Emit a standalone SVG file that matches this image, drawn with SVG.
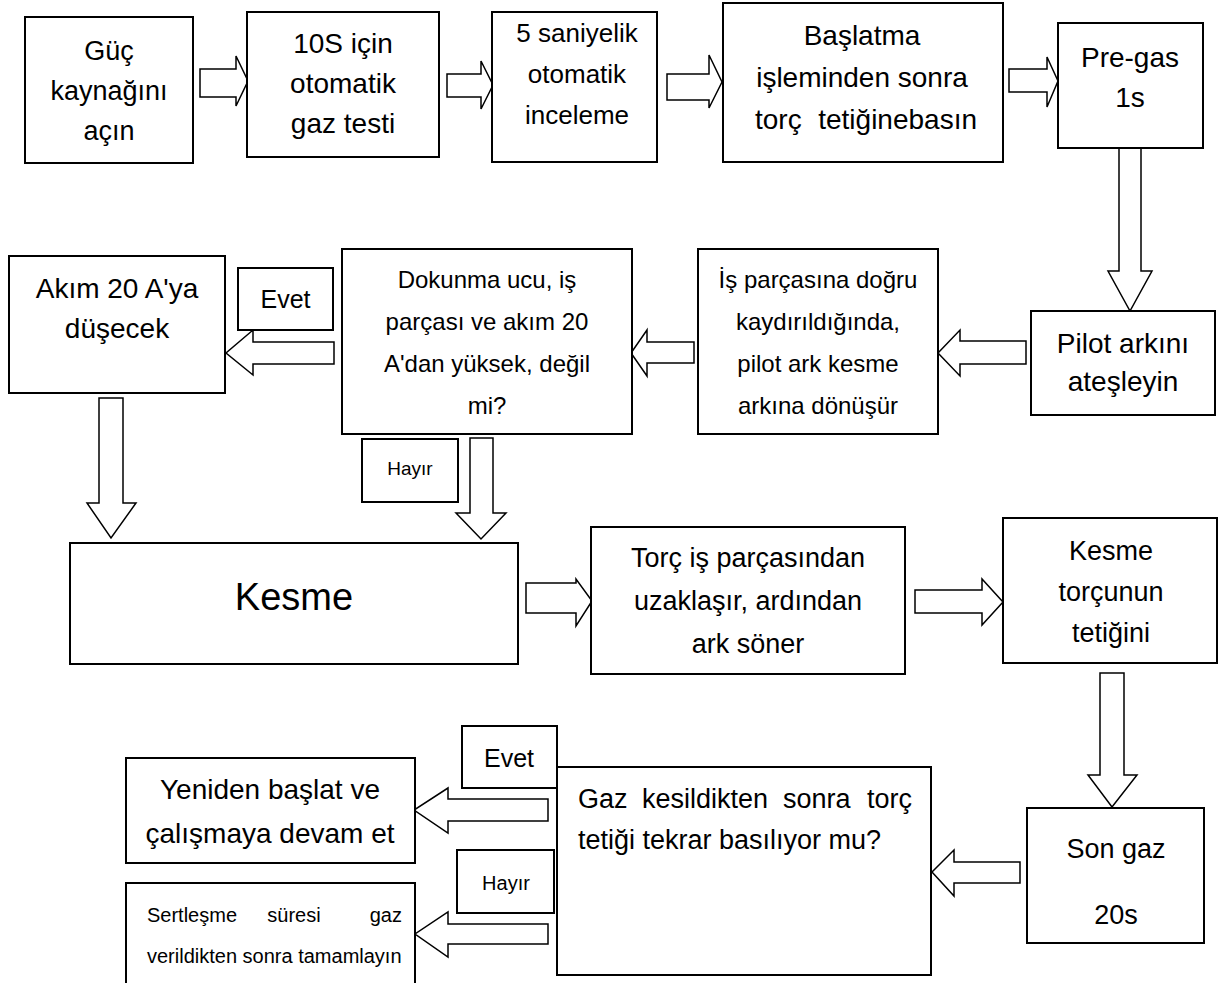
<svg xmlns="http://www.w3.org/2000/svg" width="1223" height="983" viewBox="0 0 1223 983">
<style>
.box{fill:#fff;stroke:#000;stroke-width:2}
.arr{fill:#fff;stroke:#000;stroke-width:1.5;stroke-linejoin:miter}
.t{font-family:"Liberation Sans",Arial,sans-serif;fill:#000;text-anchor:middle}
.s28{font-size:28px}.s27{font-size:27px}.s26{font-size:26px}.s24{font-size:24px}.s20{font-size:20px}
</style>
<rect width="1223" height="983" fill="#fff"/>
<g id="connectors">
<polygon class="arr" points="200,69 236,69 236,56 248,81 236,106 236,97 200,97"/>
<polygon class="arr" points="447,74 481,74 481,61 493,85 481,109 481,97 447,97"/>
<polygon class="arr" points="667,74 709,74 709,55 722,82 709,108 709,100 667,100"/>
<polygon class="arr" points="1009,69 1047,69 1047,57 1058,81 1047,107 1047,92 1009,92"/>
<polygon class="arr" points="1119,148 1141,148 1141,271 1152,271 1130,311 1108,271 1119,271"/>
<polygon class="arr" points="1026,341 960,341 960,330 938,353 960,376 960,364 1026,364"/>
<polygon class="arr" points="694,342 647,342 647,330 631,353 647,376 647,363 694,363"/>
<polygon class="arr" points="334,342 253,342 253,330 226,353 253,375 253,364 334,364"/>
<polygon class="arr" points="99,398 123,398 123,503 136,503 111,538 87,503 99,503"/>
<polygon class="arr" points="470,438 493,438 493,513 506,513 481,539 456,513 470,513"/>
<polygon class="arr" points="526,583 576,583 576,579 592,601 576,626 576,613 526,613"/>
<polygon class="arr" points="915,590 982,590 982,579 1003,602 982,625 982,613 915,613"/>
<polygon class="arr" points="1100,673 1124,673 1124,775 1137,775 1112,807 1088,775 1100,775"/>
<polygon class="arr" points="1020,862 954,862 954,850 932,872 954,896 954,883 1020,883"/>
<polygon class="arr" points="548,799 448,799 448,788 414,810 448,833 448,821 548,821"/>
<polygon class="arr" points="548,924 448,924 448,912 415,934 448,957 448,944 548,944"/>
</g>
<g id="n1"><rect class="box" x="25" y="17" width="168" height="146"/>
<text class="t s27" x="109" y="60">Güç</text><text class="t s27" x="109" y="100">kaynağını</text><text class="t s27" x="109" y="140">açın</text></g>
<g id="n2"><rect class="box" x="247" y="12" width="192" height="145"/>
<text class="t s28" x="343" y="53">10S için</text><text class="t s28" x="343" y="93">otomatik</text><text class="t s28" x="343" y="133">gaz testi</text></g>
<g id="n3"><rect class="box" x="492" y="12" width="165" height="150"/>
<text class="t s26" x="577" y="42">5 saniyelik</text><text class="t s26" x="577" y="83">otomatik</text><text class="t s26" x="577" y="124">inceleme</text></g>
<g id="n4"><rect class="box" x="723" y="3" width="280" height="159"/>
<text class="t s28" x="862" y="45">Başlatma</text><text class="t s28" x="862" y="87">işleminden sonra</text>
<text class="t s28" x="755" y="129" style="text-anchor:start">torç</text><text class="t s28" x="977" y="129" style="text-anchor:end">tetiğinebasın</text></g>
<g id="n5"><rect class="box" x="1058" y="23" width="145" height="125"/>
<text class="t s28" x="1130" y="67">Pre-gas</text><text class="t s28" x="1130" y="107">1s</text></g>
<g id="n6"><rect class="box" x="1031" y="311" width="184" height="104"/>
<text class="t s28" x="1123" y="353">Pilot arkını</text><text class="t s28" x="1123" y="391">ateşleyin</text></g>
<g id="n7"><rect class="box" x="698" y="249" width="240" height="185"/>
<text class="t s24" x="818" y="288">İş parçasına doğru</text><text class="t s24" x="818" y="330">kaydırıldığında,</text>
<text class="t s24" x="818" y="372">pilot ark kesme</text><text class="t s24" x="818" y="414">arkına dönüşür</text></g>
<g id="n8"><rect class="box" x="342" y="249" width="290" height="185"/>
<text class="t s24" x="487" y="288">Dokunma ucu, iş</text><text class="t s24" x="487" y="330">parçası ve akım 20</text>
<text class="t s24" x="487" y="372">A'dan yüksek, değil</text><text class="t s24" x="487" y="414">mi?</text></g>
<g id="n9"><rect class="box" x="9" y="256" width="216" height="137"/>
<text class="t s28" x="117" y="298">Akım 20 A'ya</text><text class="t s28" x="117" y="338">düşecek</text></g>
<g id="lbl-evet1"><rect class="box" x="238" y="268" width="95" height="62"/>
<text class="t" style="font-size:25px" x="285.5" y="308">Evet</text></g>
<g id="lbl-hayir1"><rect class="box" x="362" y="439" width="96" height="63"/>
<text class="t" style="font-size:19px" x="410" y="475">Hayır</text></g>
<g id="n10"><rect class="box" x="70" y="543" width="448" height="121"/>
<text class="t" style="font-size:38px" x="294" y="610">Kesme</text></g>
<g id="n11"><rect class="box" x="591" y="527" width="314" height="147"/>
<text class="t s27" x="748" y="567">Torç iş parçasından</text><text class="t s27" x="748" y="610">uzaklaşır, ardından</text><text class="t s27" x="748" y="653">ark söner</text></g>
<g id="n12"><rect class="box" x="1003" y="518" width="214" height="145"/>
<text class="t s27" x="1111" y="560">Kesme</text><text class="t s27" x="1111" y="601">torçunun</text><text class="t s27" x="1111" y="642">tetiğini</text></g>
<g id="n13"><rect class="box" x="1027" y="808" width="177" height="135"/>
<text class="t s27" x="1116" y="858">Son gaz</text><text class="t s27" x="1116" y="924">20s</text></g>
<g id="n14"><rect class="box" x="557" y="767" width="374" height="208"/>
<text class="t s27" style="text-anchor:start" y="808"><tspan x="578">Gaz</tspan><tspan x="642">kesildikten</tspan><tspan x="783">sonra</tspan></text>
<text class="t s27" style="text-anchor:end" x="912" y="808">torç</text>
<text class="t s27" style="text-anchor:start" x="578" y="849">tetiği tekrar basılıyor mu?</text></g>
<g id="lbl-evet2"><rect class="box" x="462" y="726" width="95" height="62"/>
<text class="t" style="font-size:25px" x="509" y="767">Evet</text></g>
<g id="lbl-hayir2"><rect class="box" x="457" y="850" width="97" height="63"/>
<text class="t" style="font-size:20px" x="506" y="890">Hayır</text></g>
<g id="n15"><rect class="box" x="126" y="758" width="289" height="105"/>
<text class="t s28" x="270" y="799">Yeniden başlat ve</text><text class="t s28" x="270" y="843">çalışmaya devam et</text></g>
<g id="n16"><rect class="box" x="126" y="883" width="289" height="110"/>
<text class="t s20" style="text-anchor:start" x="147" y="922">Sertleşme</text>
<text class="t s20" x="294" y="922">süresi</text>
<text class="t s20" style="text-anchor:end" x="402" y="922">gaz</text>
<text class="t s20" style="text-anchor:start" x="147" y="963">verildikten sonra tamamlayın</text></g>
</svg>
